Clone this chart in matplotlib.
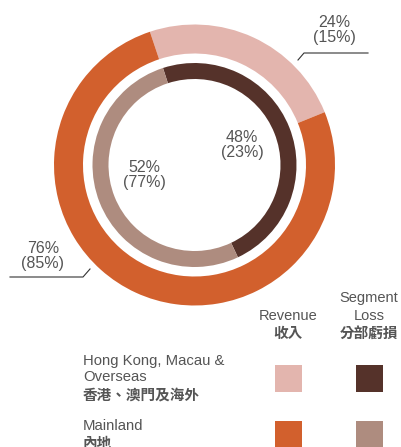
import matplotlib.pyplot as plt
from matplotlib.patches import Rectangle

# data
regions_en = ['Hong Kong, Macau &\nOverseas', 'Mainland']
regions_zh = ['香港、澳門及海外', '內地']
revenue = [24, 76]
revenue_prior = [15, 85]
seg_loss = [48, 52]
seg_loss_prior = [23, 77]

rev_colors = ['#E3B5AE', '#D2602D']
loss_colors = ['#55322A', '#AE8C7F']
txt = '#555555'

W, H = 402, 447
fig = plt.figure(figsize=(W / 100, H / 100), dpi=100)
ax = fig.add_axes([0, 0, 1, 1])

def Y(y):
    # pixel row (from top) -> data y
    return H - y

cx, cy = 194.5, Y(165)

# outer ring: revenue
ax.pie(revenue, colors=rev_colors, startangle=108.5, counterclock=False,
       radius=140.5, center=(cx, cy), wedgeprops=dict(width=29, linewidth=0))
# inner ring: segment loss
ax.pie(seg_loss, colors=loss_colors, startangle=108, counterclock=False,
       radius=102, center=(cx, cy), wedgeprops=dict(width=16, linewidth=0))

ax.set_xlim(0, W)
ax.set_ylim(0, H)
ax.set_aspect('equal')
ax.axis('off')

fnt = ['Liberation Sans', 'Noto Sans CJK TC']

def pct(a, b):
    return f'{a}%\n({b}%)'

# outer labels
ax.text(334, Y(30), pct(revenue[0], revenue_prior[0]), ha='center', va='center',
        fontsize=11.5, color=txt, family=fnt, linespacing=1.05)
ax.plot([298, 304, 368], [Y(60), Y(53), Y(53)], color='#333333', lw=0.8)
ax.text(43, Y(256), pct(revenue[1], revenue_prior[1]), ha='center', va='center',
        fontsize=11.5, color=txt, family=fnt, linespacing=1.05)
ax.plot([10, 83, 90], [Y(277), Y(277), Y(269)], color='#333333', lw=0.8)

# inner labels
ax.text(242, Y(145), pct(seg_loss[0], seg_loss_prior[0]), ha='center', va='center',
        fontsize=11.5, color=txt, family=fnt, linespacing=1.05)
ax.text(144, Y(175), pct(seg_loss[1], seg_loss_prior[1]), ha='center', va='center',
        fontsize=11.5, color=txt, family=fnt, linespacing=1.05)

# legend headers
ax.text(288, Y(316), 'Revenue', ha='center', va='center', fontsize=10.5, color=txt, family=fnt)
ax.text(288, Y(334), '收入', ha='center', va='center', fontsize=10.5, color=txt,
        family=fnt, fontweight='bold')
ax.text(369, Y(298), 'Segment', ha='center', va='center', fontsize=10.5, color=txt, family=fnt)
ax.text(369, Y(316), 'Loss', ha='center', va='center', fontsize=10.5, color=txt, family=fnt)
ax.text(369, Y(334), '分部虧損', ha='center', va='center', fontsize=10.5, color=txt,
        family=fnt, fontweight='bold')

# legend rows
row_top = [354, 419]
for i in range(2):
    y0 = row_top[i]
    ax.text(83, Y(y0), regions_en[i], ha='left', va='top', fontsize=10.7, color=txt,
            family=fnt, linespacing=1.15)
    n = regions_en[i].count('\n') + 1
    ax.text(83, Y(y0 + 18 * n), regions_zh[i], ha='left', va='top', fontsize=10.5,
            color=txt, family=fnt, fontweight='bold')
    sq = 365 if i == 0 else 421
    ax.add_patch(Rectangle((275, Y(sq + 27)), 27, 27, color=rev_colors[i], lw=0))
    ax.add_patch(Rectangle((356, Y(sq + 27)), 27, 27, color=loss_colors[i], lw=0))

fig.savefig('out.png', dpi=100)
